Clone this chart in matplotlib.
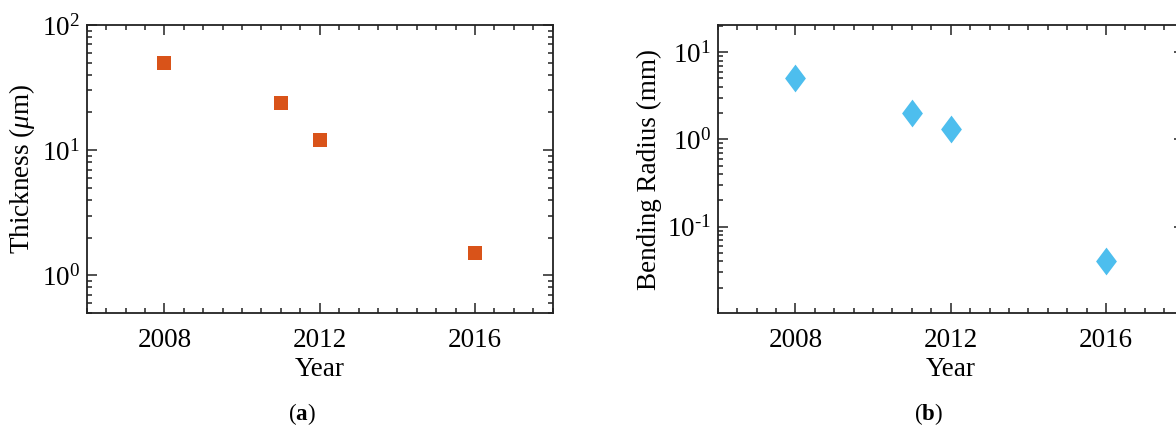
import matplotlib
matplotlib.use("Agg")
import math
import matplotlib.pyplot as plt
from matplotlib.ticker import MultipleLocator, LogLocator, NullFormatter, FuncFormatter

years = [2008, 2011, 2012, 2016]
thickness_um = [50, 24, 12, 1.5]
bending_radius_mm = [5, 2, 1.3, 0.04]
year_ticks = [2008, 2012, 2016]

plt.rcParams['font.family'] = ['Liberation Serif', 'DejaVu Serif']
plt.rcParams['mathtext.fontset'] = 'custom'
plt.rcParams['mathtext.rm'] = 'Liberation Serif'
plt.rcParams['mathtext.it'] = 'Liberation Serif:italic'
plt.rcParams['mathtext.bf'] = 'Liberation Serif:bold'
plt.rcParams['axes.unicode_minus'] = False

fig = plt.figure(figsize=(11.76, 4.25), dpi=100)
W, H = 1176, 425

def make_ax(x0, x1, y0, y1):
    return fig.add_axes([x0 / W, 1 - y1 / H, (x1 - x0) / W, (y1 - y0) / H])

def pow_label(v, pos):
    e = int(round(math.log10(v)))
    if e < 0:
        return r'$\mathdefault{10^{\text{-}%d}}$' % (-e)
    return r'$\mathdefault{10^{%d}}$' % e

axa = make_ax(86.7, 552.7, 25, 313)
axb = make_ax(717.7, 1183.7, 25, 313)

diamond = [(0, 1), (0.75, 0), (0, -1), (-0.75, 0), (0, 1)]

axa.plot(years, thickness_um, linestyle='none', marker='s', markersize=9.5,
         color='#D95319', markeredgewidth=0)
axb.plot(years, bending_radius_mm, linestyle='none', marker=diamond, markersize=20,
         color='#4DBEEE', markeredgewidth=0)

axa.set_yscale('log')
axb.set_yscale('log')
axa.set_ylim(0.5, 100)
axb.set_ylim(0.0102, 20.5)

FS = 19.5
for ax in (axa, axb):
    ax.set_xlim(2006, 2018)
    ax.set_xticks(year_ticks)
    ax.xaxis.set_minor_locator(MultipleLocator(0.5))
    ax.yaxis.set_major_locator(LogLocator(base=10, numticks=10))
    ax.yaxis.set_major_formatter(FuncFormatter(pow_label))
    ax.yaxis.set_minor_locator(LogLocator(base=10, subs=range(2, 10), numticks=20))
    ax.yaxis.set_minor_formatter(NullFormatter())
    ax.tick_params(which='both', direction='in', top=True, right=True,
                   labelsize=FS, width=1.1, color='#222222')
    ax.tick_params(which='major', length=7)
    ax.tick_params(which='minor', length=3.6)
    ax.tick_params(axis='x', pad=11)
    ax.tick_params(axis='y', pad=5)
    for s in ax.spines.values():
        s.set_linewidth(1.3)
        s.set_color('#222222')
    ax.set_xlabel('Year', fontsize=FS, labelpad=3)

axa.set_ylabel('Thickness ($\\mu$m)', fontsize=FS, labelpad=3)
axb.set_ylabel('Bending Radius (mm)', fontsize=FS, labelpad=3)

fig.text(302 / W, 1 - 414 / H, '($\\mathbf{a}$)', ha='center', va='center', fontsize=16.5)
fig.text(928 / W, 1 - 414 / H, '($\\mathbf{b}$)', ha='center', va='center', fontsize=16.5)

fig.savefig('out.png', dpi=100)
